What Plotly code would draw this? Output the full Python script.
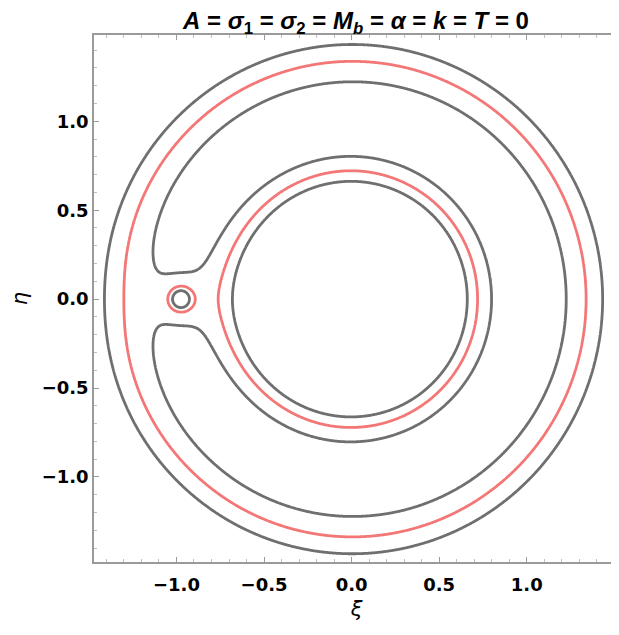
import numpy as np
import plotly.graph_objects as go

# ---- parameters ----
mu = 0.011                       # mass ratio of the small primary
m2_x = -0.975                    # position of the small primary on the xi axis
dark_levels = [1.563, 1.722]     # grey contour levels of Omega
red_levels = [1.640]             # red contour level of Omega
x_ticks = [-1.0, -0.5, 0.0, 0.5, 1.0]
y_ticks = [-1.0, -0.5, 0.0, 0.5, 1.0]
x_tick_text = ["\u22121.0", "\u22120.5", "0.0", "0.5", "1.0"]
y_tick_text = ["\u22121.0", "\u22120.5", "0.0", "0.5", "1.0"]

xs = np.linspace(-1.5, 1.55, 611)
ys = np.linspace(-1.5, 1.5, 601)
X, Y = np.meshgrid(xs, ys)
r1 = np.sqrt(X**2 + Y**2) + 1e-9
r2 = np.sqrt((X - m2_x)**2 + Y**2) + 1e-9
Z = (X**2 + Y**2) / 2 + (1 - mu) / r1 + mu / r2
Z = np.minimum(Z, 5.0).astype(np.float32)

GREY = "#6f6f6f"
RED = "#f47777"

fig = go.Figure()

def add_levels(levels, color):
    lv = sorted(levels)
    size = (lv[-1] - lv[0]) if len(lv) > 1 else 1.0
    fig.add_trace(go.Contour(
        x=xs, y=ys, z=Z,
        contours=dict(start=lv[0], end=lv[-1], size=size, coloring="lines"),
        colorscale=[[0, color], [1, color]],
        showscale=False, line=dict(width=2.8, smoothing=1.0),
        hoverinfo="skip",
    ))

add_levels(dark_levels, GREY)
add_levels(red_levels, RED)

axis_col = "#9a9a9a"
FONT = "DejaVu Sans, Liberation Sans, Arial, sans-serif"
tickfont = dict(family=FONT, size=18, color="black", weight="bold")

# The page body has an 8 px default margin: the figure is sized to fit the window.
W, H = 611, 627
fig.update_layout(
    width=W, height=H,
    margin=dict(l=86, r=0, t=27, b=73, autoexpand=False),
    paper_bgcolor="white", plot_bgcolor="white",
    showlegend=False,
    title=dict(
        text="<b><i>A</i> = <i>\u03c3</i><sub>1</sub> = <i>\u03c3</i><sub>2</sub> = <i>M</i><sub><i>b</i></sub> = <i>\u03b1</i> = <i>k</i> = <i>T</i> = 0</b>",
        x=348/W, xref="container", xanchor="center", y=1 - 13/H, yref="container", yanchor="middle",
        pad=dict(t=0, b=0),
        font=dict(family="Liberation Sans, Arial, sans-serif", size=24, color="black"),
        automargin=False,
    ),
    xaxis=dict(
        range=[-1.471, 1.527], showgrid=False, zeroline=False, automargin=False,
        showline=True, linecolor=axis_col, linewidth=1.5, mirror="allticks",
        ticks="inside", ticklen=5, tickcolor=axis_col, tickwidth=1,
        tickvals=x_ticks, ticktext=x_tick_text, tickfont=tickfont,
        ticklabelstandoff=6,
        minor=dict(ticks="inside", ticklen=3, dtick=0.1, tick0=0, tickcolor="#c0c0c0", showgrid=False),
        title=dict(text="<i>\u03be</i>", font=dict(family=FONT, size=21, color="black"), standoff=7),
    ),
    yaxis=dict(
        range=[-1.478, 1.485], showgrid=False, zeroline=False, automargin=False,
        showline=True, linecolor=axis_col, linewidth=1.5, mirror=False,
        ticks="inside", ticklen=5, tickcolor=axis_col, tickwidth=1,
        tickvals=y_ticks, ticktext=y_tick_text, tickfont=tickfont,
        minor=dict(ticks="inside", ticklen=3, dtick=0.1, tick0=0, tickcolor="#c0c0c0", showgrid=False),
        title=dict(text="<i>\u03b7</i>", font=dict(family=FONT, size=21, color="black"), standoff=10),
    ),
)

fig.write_html("out.html")
